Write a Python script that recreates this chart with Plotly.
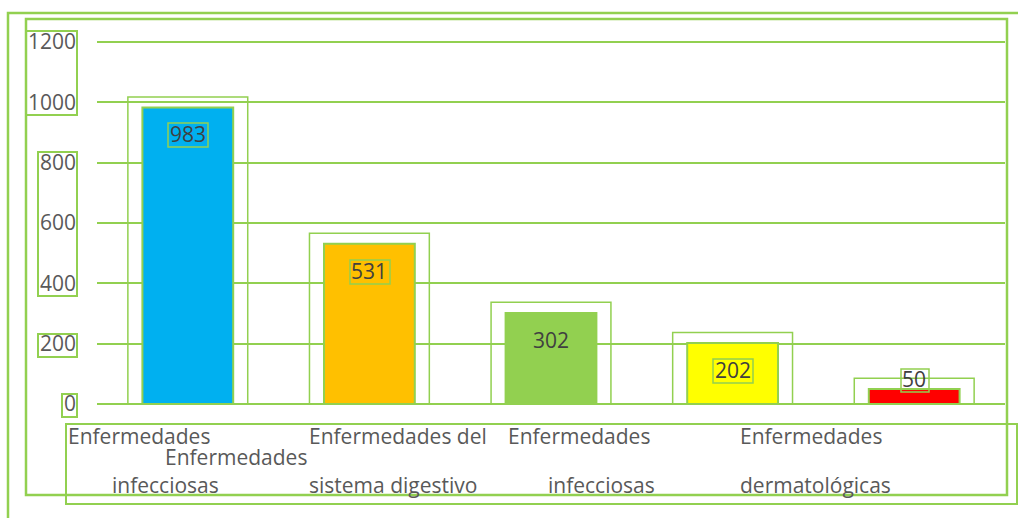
import plotly.graph_objects as go

# ---- data ----
values = [983, 531, 302, 202, 50]
bar_colors = ["#00B0F0", "#FFC000", "#92D050", "#FFFF00", "#FF0000"]
y_ticks = [0, 200, 400, 600, 800, 1000, 1200]
# category text fragments as they appear under the axis
label_lines = ["Enfermedades", "Enfermedades", "infecciosas",
               "Enfermedades del", "sistema digestivo",
               "Enfermedades", "infecciosas",
               "Enfermedades", "dermatológicas"]
label_pos = [(66, 436), (163, 457), (110, 485),
             (307, 436), (307, 485),
             (506, 436), (546, 485),
             (738, 436), (738, 485)]

W, H = 1018, 518
L, R, T, B = 97, 13, 40, 114
PW, PH = W - L - R, H - T - B
GREEN = "#92D050"
FONT = "Open Sans"
FS = 21
Y_MAX = 1200 * PH / 362.0  # so that 1200 sits just inside the top edge


def px(x):
    return (x - L) / PW


def py(y):
    return (H - B - y) / PH


xs = list(range(len(values)))

fig = go.Figure()
fig.add_trace(go.Bar(
    x=xs, y=values, width=0.5,
    marker=dict(color=bar_colors, line=dict(color=GREEN, width=2)),
    hoverinfo="y", showlegend=False,
))

annotations = []
# value labels
for i, v in enumerate(values):
    inside = v > 100
    annotations.append(dict(
        x=i, y=v, xref="x", yref="y", text=str(v), showarrow=False,
        yanchor="middle", yshift=-27 if inside else 10,
        font=dict(family=FONT, size=FS, color="#404040"),
    ))
# category labels
for txt, (xp, yp) in zip(label_lines, label_pos):
    annotations.append(dict(
        x=px(xp), y=py(yp), xref="paper", yref="paper", text=txt,
        showarrow=False, xanchor="left", yanchor="middle",
        font=dict(family=FONT, size=FS, color="#595959"),
    ))

shapes = []


def pbox(x0, y0, x1, y1, w=2):
    shapes.append(dict(type="rect", xref="paper", yref="paper",
                       x0=px(x0), x1=px(x1), y0=py(y1), y1=py(y0),
                       line=dict(color=GREEN, width=w), fillcolor="rgba(0,0,0,0)",
                       layer="above"))


# frame boxes
pbox(8, 13, 1040, 540, 2.5)
pbox(26, 19, 1007, 495, 2.5)
pbox(66, 424, 1017, 504, 2)
# tick label boxes
pbox(26, 31, 77, 115, 2)
pbox(38, 152, 77, 296, 2)
pbox(38, 334, 77, 357, 2)
pbox(62, 394, 77, 417, 2)
# boxes around bars (data coordinates)
for i, v in enumerate(values):
    shapes.append(dict(type="rect", xref="x", yref="y",
                       x0=i - 0.33, x1=i + 0.33, y0=-10, y1=v + 35,
                       line=dict(color=GREEN, width=1.5), layer="above"))
# boxes around value labels
pbox(168, 123, 208, 147, 1.5)
pbox(350, 260, 390, 284, 1.5)
pbox(713, 359, 753, 383, 1.5)
pbox(901, 369, 929, 392, 1.5)

fig.update_layout(
    width=W, height=H,
    margin=dict(l=L, r=R, t=T, b=B, autoexpand=False),
    paper_bgcolor="white", plot_bgcolor="white",
    bargap=0.5,
    xaxis=dict(range=[-0.5, len(values) - 0.5], showticklabels=False,
               showgrid=False, zeroline=False, showline=False, fixedrange=True),
    yaxis=dict(range=[0, Y_MAX], tickvals=y_ticks, showgrid=True,
               gridcolor=GREEN, gridwidth=2, zeroline=True, zerolinecolor=GREEN,
               zerolinewidth=2, showline=False, ticklabelstandoff=20,
               tickfont=dict(family=FONT, size=FS, color="#595959")),
    annotations=annotations,
    shapes=shapes,
)

fig.write_html("out.html",
               config={"displayModeBar": False},
               post_script="document.body.style.margin='0';"
                           "document.body.style.overflow='hidden';")
